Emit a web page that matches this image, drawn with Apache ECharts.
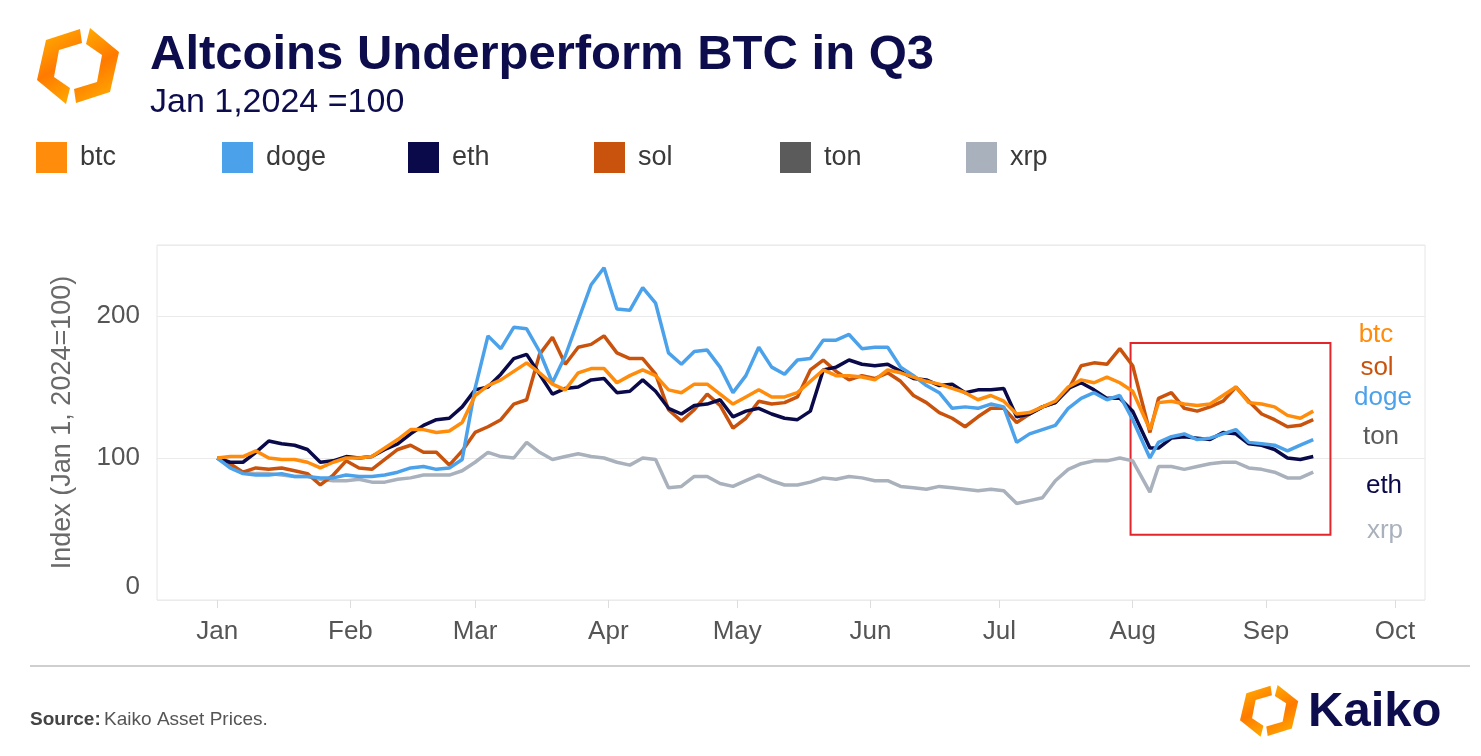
<!DOCTYPE html>
<html>
<head>
<meta charset="utf-8">
<script src="https://cdn.jsdelivr.net/npm/echarts@6/dist/echarts.min.js"></script>
<style>
html,body{margin:0;padding:0;background:#fff;}
#chart{width:1481px;height:756px;}
</style>
</head>
<body>
<div id="chart"></div>
<script>
// ---------- DATA ----------
const TITLE = 'Altcoins Underperform BTC in Q3';
const SUBTITLE = 'Jan 1,2024 =100';
const Y_NAME = 'Index (Jan 1, 2024=100)';
const SOURCE_LABEL = 'Source:';
const SOURCE_TEXT = 'Kaiko Asset Prices.';
const MONTHS = ['Jan','Feb','Mar','Apr','May','Jun','Jul','Aug','Sep','Oct','Nov','Dec'];
const SERIES_NAMES = ['btc','doge','eth','sol','ton','xrp'];
const END_LABELS = ['btc','sol','doge','ton','eth','xrp'];
const X_MIN = '2023-12-18';
const X_MAX = '2024-10-08';
const Y_MIN = 0, Y_MAX = 250, Y_STEP = 100;
const BOX_X = ['2024-07-31 12:00', '2024-09-16'];
const BOX_Y = [181, 46];

const DATES = [
'01-01','01-04','01-07','01-10','01-13','01-16','01-19','01-22','01-25','01-28','01-31',
'02-03','02-06','02-09','02-12','02-15','02-18','02-21','02-24','02-27',
'03-01','03-04','03-07','03-10','03-13','03-16','03-19','03-22','03-25','03-28','03-31',
'04-03','04-06','04-09','04-12','04-15','04-18','04-21','04-24','04-27','04-30',
'05-03','05-06','05-09','05-12','05-15','05-18','05-21','05-24','05-27','05-30',
'06-02','06-05','06-08','06-11','06-14','06-17','06-20','06-23','06-26','06-29',
'07-02','07-05','07-08','07-11','07-14','07-17','07-20','07-23','07-26','07-29',
'08-01','08-05','08-07','08-10','08-13','08-16','08-19','08-22','08-25','08-28','08-31',
'09-03','09-06','09-09','09-12'
];

const BTC = [
100,101,101,105,100,99,99,97,93,97,100,
100,101,107,113,120,120,118,119,125,
144,151,155,161,167,160,152,148,160,163,163,
153,158,162,158,148,146,152,152,145,138,
143,148,143,143,146,154,162,158,158,157,
155,162,160,157,154,152,149,146,141,144,
140,131,132,136,140,150,155,153,157,153,
147,120,139,140,138,137,138,144,150,139,138,
136,130,128,133
];
const SOL = [
100,96,90,93,92,93,91,89,81,88,98,
93,92,99,106,109,104,104,95,105,
118,122,127,138,141,173,185,166,178,180,186,
174,170,170,159,134,126,134,145,137,121,
128,140,138,139,143,162,169,161,155,158,
156,160,154,144,139,132,128,122,129,135,
135,125,131,136,139,148,165,167,166,177,
165,118,142,146,135,133,136,140,150,140,131,
127,122,123,127
];
const DOGE = [
100,93,89,88,88,89,87,87,86,86,88,
87,87,88,90,93,94,92,93,99,
149,186,177,192,191,175,153,172,197,222,234,
205,204,220,209,174,166,175,176,164,146,
158,178,164,159,169,170,183,183,187,177,
178,178,164,158,151,146,135,136,135,138,
136,111,117,120,123,135,142,146,141,144,
127,100,111,115,117,113,114,117,120,111,110,
109,105,109,113
];
const ETH = [
100,97,97,104,112,110,109,106,97,98,101,
100,101,106,110,117,123,127,128,136,
148,150,159,170,173,159,145,149,150,155,156,
146,147,155,147,135,131,137,138,141,129,
133,135,131,128,127,133,162,164,169,166,
165,166,161,156,155,151,152,146,148,148,
149,129,131,136,139,149,153,148,142,142,
133,107,107,114,115,114,113,118,117,110,109,
106,100,99,101
];
const TON = [];
const XRP = [
100,94,90,89,89,88,87,87,85,84,84,
85,83,83,85,86,88,88,88,91,
97,104,101,100,111,104,99,101,103,101,100,
97,95,100,99,79,80,87,87,82,80,
84,88,84,81,81,83,86,85,87,86,
84,84,80,79,78,80,79,78,77,78,
77,68,70,72,84,92,96,98,98,100,
98,76,94,94,92,94,96,97,97,93,92,
90,86,86,90
];

// ---------- STYLE ----------
const COLORS = {btc:'#FF8C0A', doge:'#4BA2EA', eth:'#0A0A4A', sol:'#C9530C', ton:'#5B5B5B', xrp:'#A9B1BC'};
const NAVY = '#0D0D4E';
const FONT = '"Liberation Sans", Arial, Helvetica, sans-serif';

const VALUES = {btc:BTC, doge:DOGE, eth:ETH, sol:SOL, ton:TON, xrp:XRP};
const pairs = arr => arr.map((v, i) => ['2024-' + DATES[i], v]);

const chart = echarts.init(document.getElementById('chart'), null, {renderer:'canvas'});

const zOrder = {xrp:1, ton:2, sol:3, eth:4, doge:5, btc:6};
const series = SERIES_NAMES.map(n => {
  const s = {
    name: n, type: 'line', data: pairs(VALUES[n]),
    showSymbol: false, symbol: 'none', z: zOrder[n],
    lineStyle: {width: 3.5, color: COLORS[n]},
    itemStyle: {color: COLORS[n]},
    emphasis: {disabled: true}
  };
  if (n === 'btc') {
    s.markArea = {
      silent: true,
      itemStyle: {color: 'rgba(0,0,0,0)', borderColor: '#E3262B', borderWidth: 2},
      data: [[{xAxis: BOX_X[0], yAxis: BOX_Y[0]}, {xAxis: BOX_X[1], yAxis: BOX_Y[1]}]]
    };
  }
  return s;
});

// one legend component per item, evenly spaced like the reference
const legends = SERIES_NAMES.map((n, i) => ({
  data: [n], left: 31 + i * 186, top: 137, itemWidth: 31, itemHeight: 31,
  icon: 'rect', selectedMode: false,
  formatter: name => '{s|}' + name,
  textStyle: {fontSize: 27, color: '#3A3A3A', fontFamily: FONT, rich: {s: {width: 8}}}
}));

// Kaiko logo shapes (decoration)
const logoGrad = new echarts.graphic.LinearGradient(0, 0, 1, 1, [
  {offset: 0, color: '#FFB400'}, {offset: 0.5, color: '#FF7A00'}, {offset: 1, color: '#FFB400'}
]);
function logoShapes() {
  return [
    {type:'polygon', shape:{points:[[80,29],[46,40],[37,80],[66,104],[70,88],[54,77],[59,50],[82,43]]}, style:{fill:logoGrad}},
    {type:'polygon', shape:{points:[[76,103],[110,92],[119,52],[90,28],[86,44],[102,55],[97,82],[74,89]]}, style:{fill:logoGrad}}
  ];
}

const endLabelPos = {btc:[1376,335], sol:[1377,368], doge:[1383,398], ton:[1381,437], eth:[1384,486], xrp:[1385,531]};
const endLabels = END_LABELS.map(n => ({
  type:'text', x:endLabelPos[n][0], y:endLabelPos[n][1],
  style:{text:n, fill:COLORS[n], font:'26px ' + FONT, align:'center', verticalAlign:'middle'}
}));

const option = {
  animation: false,
  backgroundColor: '#fff',
  textStyle: {fontFamily: FONT},
  title: {
    text: TITLE, subtext: SUBTITLE, left: 145, top: 26, itemGap: 6,
    textStyle: {fontSize: 49, fontWeight: 'bold', color: NAVY, fontFamily: FONT},
    subtextStyle: {fontSize: 34, color: NAVY, fontFamily: FONT}
  },
  legend: legends,
  grid: {left: 157, right: 56, top: 245, bottom: 156, show: true, borderColor: '#E6E6E6', borderWidth: 1, containLabel: false},
  xAxis: {
    type: 'time', min: X_MIN, max: X_MAX,
    minInterval: 28 * 86400000, maxInterval: 31 * 86400000,
    axisLine: {show: false},
    axisTick: {show: true, length: 8, lineStyle: {color: '#DDDDDD'}},
    splitLine: {show: false},
    axisLabel: {
      fontSize: 26, color: '#555', margin: 19, fontFamily: FONT,
      formatter: v => MONTHS[new Date(v).getMonth()]
    }
  },
  yAxis: {
    type: 'value', min: Y_MIN, max: Y_MAX, interval: Y_STEP,
    name: Y_NAME, nameLocation: 'middle', nameGap: 81,
    nameTextStyle: {fontSize: 27, color: '#6A6A6A', fontFamily: FONT},
    axisLine: {show: false}, axisTick: {show: false},
    axisLabel: {
      fontSize: 26, color: '#555', margin: 17, showMaxLabel: false, fontFamily: FONT,
      formatter: v => v === 0 ? '{z|0}' : String(v),
      rich: {z: {fontSize: 26, color: '#555', padding: [0, 0, 26, 0], fontFamily: FONT}}
    },
    splitLine: {lineStyle: {color: '#EBEBEB', width: 1}}
  },
  series: series,
  graphic: [
    {type:'group', x:0, y:0, children: logoShapes()},
    {type:'group', x:1240 - 37*0.71, y:685 - 28*0.68, scaleX:0.71, scaleY:0.68, children: logoShapes()},
    {type:'text', x:1308, y:712, style:{text:'Kaiko', fill:NAVY, font:'bold 49px ' + FONT, verticalAlign:'middle'}},
    {type:'line', shape:{x1:30, y1:666, x2:1470, y2:666}, style:{stroke:'#CFCFCF', lineWidth:2}},
    {type:'text', x:30, y:720, style:{
      text:'{b|' + SOURCE_LABEL + '} {n|' + SOURCE_TEXT + '}', verticalAlign:'middle',
      rich:{b:{font:'bold 19px ' + FONT, fill:'#444'}, n:{font:'19px ' + FONT, fill:'#555'}}
    }},
    ...endLabels
  ]
};
chart.setOption(option);
</script>
</body>
</html>
